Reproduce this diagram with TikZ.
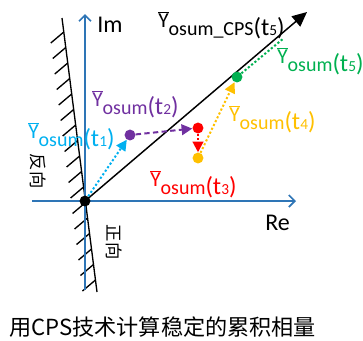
\documentclass[tikz,border=0pt]{standalone}
\usepackage{fontspec}
\setmainfont{Carlito}
\newfontfamily\cjk{Noto Sans CJK SC}
\usetikzlibrary{arrows.meta}
\definecolor{axblue}{RGB}{46,117,182}
\definecolor{ccyan}{RGB}{0,176,240}
\definecolor{cpurple}{RGB}{112,48,160}
\definecolor{cred}{RGB}{255,0,0}
\definecolor{corange}{RGB}{255,192,0}
\definecolor{cgreen}{RGB}{0,176,80}
\newcommand\ylab[2]{%
  \raisebox{5.5pt}{\fontsize{16}{16}\selectfont$\overline{\mbox{Y}}$}%
  {\fontsize{15}{15}\selectfont #1}%
  {\fontsize{18.5}{18.5}\selectfont(t{\fontsize{11.5}{11.5}\selectfont #2})}}
\tikzset{
  axis/.style={draw=axblue, line width=1.5pt, -{Straight Barb[length=4.5pt,width=9pt,line width=1.3pt]}},
  wall/.style={draw=black, line width=1pt},
  dot/.style={circle, inner sep=0pt, minimum size=8.2pt},
  dotarrow/.style={line width=1.5pt, dash pattern=on 1.6pt off 1.6pt, -{Triangle[length=8pt,width=8pt]}},
  lbl/.style={anchor=base west, inner sep=0pt},
  vtext/.style={font=\cjk\fontsize{13}{13}\selectfont, rotate=-90, inner sep=0pt},
}
\begin{document}
\begin{tikzpicture}[x=0.75pt, y=-0.75pt]
\useasboundingbox (0,0) rectangle (363,340);
% wall with hatches
\coordinate (w1) at (62,18);
\coordinate (w2) at (97,292);
\draw[wall] (w1) -- (w2);
\foreach \k in {0,...,16}{
  \pgfmathsetmacro\yy{32+15.5*\k}
  \pgfmathsetmacro\xx{62+(\yy-18)*35/274}
  \draw[wall] (\xx,\yy) -- ++(-13,11);
}
% axes
\coordinate (imS) at (85,290);
\coordinate (imE) at (85,14);
\coordinate (reS) at (32,201);
\coordinate (reE) at (296,201);
\draw[axis] (imS) -- (imE);
\draw[axis] (reS) -- (reE);
% origin and resultant
\node[dot, fill=black] (o) at (85,201) {};
\coordinate (tip) at (307,12);
\draw[line width=1.1pt, -{Triangle[length=11pt,width=10pt]}] (o.center) -- (tip);
% points
\node[dot, fill=cpurple] (p2) at (130,135) {};
\node[dot, fill=cred] (p3) at (198,128) {};
\node[dot, fill=corange] (p4) at (198,158) {};
\node[dot, fill=cgreen] (p5) at (237,77) {};
\coordinate (g5) at (284,38);
% vectors
\draw[dotarrow, ccyan] (o) -- (p2);
\draw[cpurple, line width=1.5pt, dash pattern=on 4pt off 2.5pt, -{Triangle[length=8pt,width=8pt]}] (p2) -- (p3);
\draw[dotarrow, cred] (p3) -- (p4);
\draw[dotarrow, corange] (p4) -- (p5);
\draw[cgreen, line width=1.5pt, dash pattern=on 1.6pt off 1.6pt] (p5) -- (g5);
% labels
\node[lbl] (im) at (97,32) {\fontsize{18}{18}\selectfont Im};
\node[lbl] (re) at (265,230) {\fontsize{18}{18}\selectfont Re};
\node[lbl, text=black] (lcps) at (158,35) {\ylab{osum\_CPS}{5}};
\node[lbl, text=cgreen] (l5) at (277,71) {\ylab{osum}{5}};
\node[lbl, text=cpurple] (l2) at (92,114) {\ylab{osum}{2}};
\node[lbl, text=ccyan] (l1) at (28,146) {\ylab{osum}{1}};
\node[lbl, text=corange] (l4) at (229,129) {\ylab{osum}{4}};
\node[lbl, text=cred] (l3) at (150,194) {\ylab{osum}{3}};
\node[vtext] (fan) at (38,171) {反向};
\node[vtext] (zheng) at (114,242) {正向};
\node[anchor=west, inner sep=0pt, font=\cjk\fontsize{16.6}{16.6}\selectfont] (cap) at (9,327) {用CPS技术计算稳定的累积相量};
\end{tikzpicture}
\end{document}
